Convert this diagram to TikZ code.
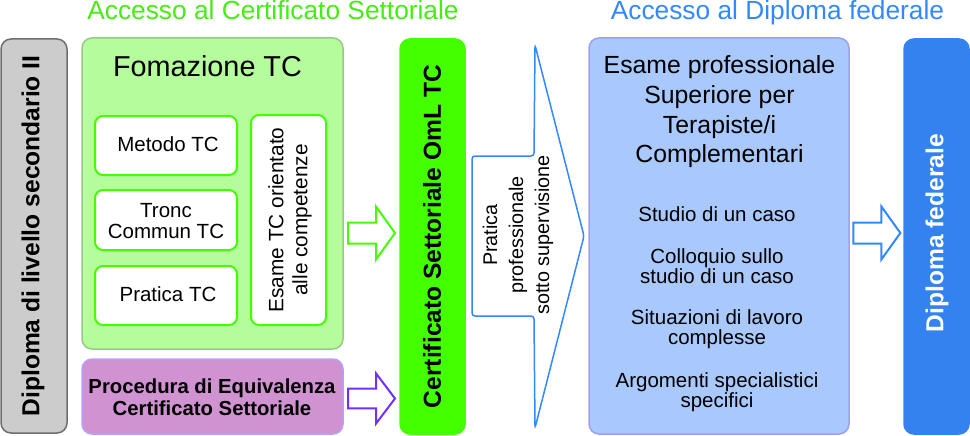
\documentclass[tikz,border=0pt]{standalone}
\usepackage{fontspec}
\setmainfont{Liberation Sans}
\usetikzlibrary{calc}
\definecolor{titlegreen}{HTML}{44EE11}
\definecolor{titleblue}{HTML}{3388FF}
\definecolor{greyfill}{HTML}{CCCCCC}
\definecolor{greyline}{HTML}{6E6E6E}
\definecolor{lgfill}{HTML}{B4FC9C}
\definecolor{lgline}{HTML}{99C98A}
\definecolor{brightgreen}{HTML}{44FF00}
\definecolor{purplefill}{HTML}{D092D0}
\definecolor{purpleline}{HTML}{B3A1FF}
\definecolor{violet}{HTML}{7030FF}
\definecolor{lbfill}{HTML}{A9C8FC}
\definecolor{lbline}{HTML}{A0A0F0}
\definecolor{midblue}{HTML}{3388FF}
\definecolor{dbfill}{HTML}{3382F0}
\newcommand{\fsz}[2]{\fontsize{#1}{#2}\selectfont}
\begin{document}
\begin{tikzpicture}[x=1pt,y=-1pt,
  bigbox/.style={rounded corners=10pt, inner sep=0pt, line width=1.5pt},
  whitebox/.style={draw=brightgreen, fill=white, rounded corners=8pt, inner sep=0pt, line width=2pt},
  smalltxt/.style={font=\fsz{20.5}{20.5}, align=center, inner sep=0pt},
  bigtxt/.style={font=\fsz{24.6}{28}\bfseries, rotate=90, inner sep=0pt},
  blockarrow/.pic={\draw[pic actions] (-23.5,-10.5) -- (4.5,-10.5) -- (4.5,-26.5) -- (23.5,0) -- (4.5,26.5) -- (4.5,10.5) -- (-23.5,10.5) -- cycle;}
]
\useasboundingbox (0,0) rectangle (970,436);

% titles
\node[font=\fsz{26.3}{30}, text=titlegreen, anchor=base, inner sep=0pt] (t1) at (273,20) {Accesso al Certificato Settoriale};
\node[font=\fsz{26.3}{30}, text=titleblue, anchor=base, inner sep=0pt] (t2) at (777.5,20) {Accesso al Diploma federale};

% grey box
\node[bigbox, draw=greyline, fill=greyfill, minimum width=66pt, minimum height=394pt] (dip) at (34,236) {};
\node[bigtxt] (diptxt) at (33,236) {Diploma di livello secondario II};

% formation box
\node[bigbox, draw=lgline, fill=lgfill, minimum width=261pt, minimum height=311pt] (form) at (212.5,193.5) {};
\node[font=\fsz{28.8}{32}, anchor=base, inner sep=0pt] (formtxt) at (207.5,77) {Fomazione TC};

\node[whitebox, minimum width=142pt, minimum height=59pt] (met) at (166,145.5) {};
\node[smalltxt] (mettxt) at (168,144.5) {Metodo TC};
\node[whitebox, minimum width=142pt, minimum height=60pt] (tro) at (166,220) {};
\node[smalltxt] (trotxt) at (166,221) {Tronc\\Commun TC};
\node[whitebox, minimum width=142pt, minimum height=59pt] (pra) at (166,295.5) {};
\node[smalltxt] (pratxt) at (168,294.5) {Pratica TC};
\node[whitebox, minimum width=75pt, minimum height=210pt] (esa) at (288.5,220) {};
\node[smalltxt, rotate=90, font=\fsz{20.8}{24}] (esatxt) at (290,220) {Esame TC orientato\\alle competenze};

% purple box
\node[bigbox, draw=purpleline, fill=purplefill, minimum width=261pt, minimum height=75pt] (proc) at (212.5,396.5) {};
\node[smalltxt, font=\fsz{20.3}{22}\bfseries] (proctxt) at (212,397) {Procedura di Equivalenza\\Certificato Settoriale};

% certificate box
\node[bigbox, draw=brightgreen, fill=brightgreen, minimum width=65pt, minimum height=395pt] (cert) at (432.5,236.5) {};
\node[bigtxt] (certtxt) at (432,236.5) {Certificato Settoriale OmL TC};

% arrows
\pic[draw=brightgreen, fill=white, line width=2pt] (ga) at ($(form.east |- 0,233)!0.5!(cert.west |- 0,233)$) {blockarrow};
\pic[draw=violet, fill=white, line width=2pt, yscale=0.95] (pa) at ($(proc.east |- 0,398.5)!0.5!(cert.west |- 0,398.5)$) {blockarrow};

% callout
\coordinate (co) at (472,156);
\draw[midblue, fill=white, line width=1.5pt, rounded corners=3pt]
  (co) -- (534,156) -- (535,45) -- (584,236) -- (535,428) -- (534,316) -- (472,316) -- cycle;
\node[smalltxt, rotate=90, font=\fsz{19.8}{26}] (cotxt) at (518,235) {Pratica\\professionale\\sotto supervisione};

% blue box
\node[bigbox, draw=lbline, fill=lbfill, minimum width=260pt, minimum height=396pt] (epsb) at (719,236) {};
\node[smalltxt, font=\fsz{24.8}{29.7}] (epsbtxt) at (719.5,112) {Esame professionale\\Superiore per\\Terapiste/i\\Complementari};
\node[smalltxt] (i1) at (717,214) {Studio di un caso};
\node[smalltxt] (i2) at (717,266) {Colloquio sullo\\studio di un caso};
\node[smalltxt] (i3) at (717,329) {Situazioni di lavoro\\complesse};
\node[smalltxt] (i4) at (717,392) {Argomenti specialistici\\specifici};

% blue arrow
\pic[draw=midblue, fill=white, line width=2pt] (ba) at ($(epsb.east |- 0,233)!0.5!(904,233)$) {blockarrow};

% diploma federale box
\node[bigbox, draw=dbfill, fill=dbfill, minimum width=65pt, minimum height=395pt] (df) at (936.5,236.5) {};
\node[bigtxt, text=white] (dftxt) at (937,233) {Diploma federale};
\end{tikzpicture}
\end{document}
